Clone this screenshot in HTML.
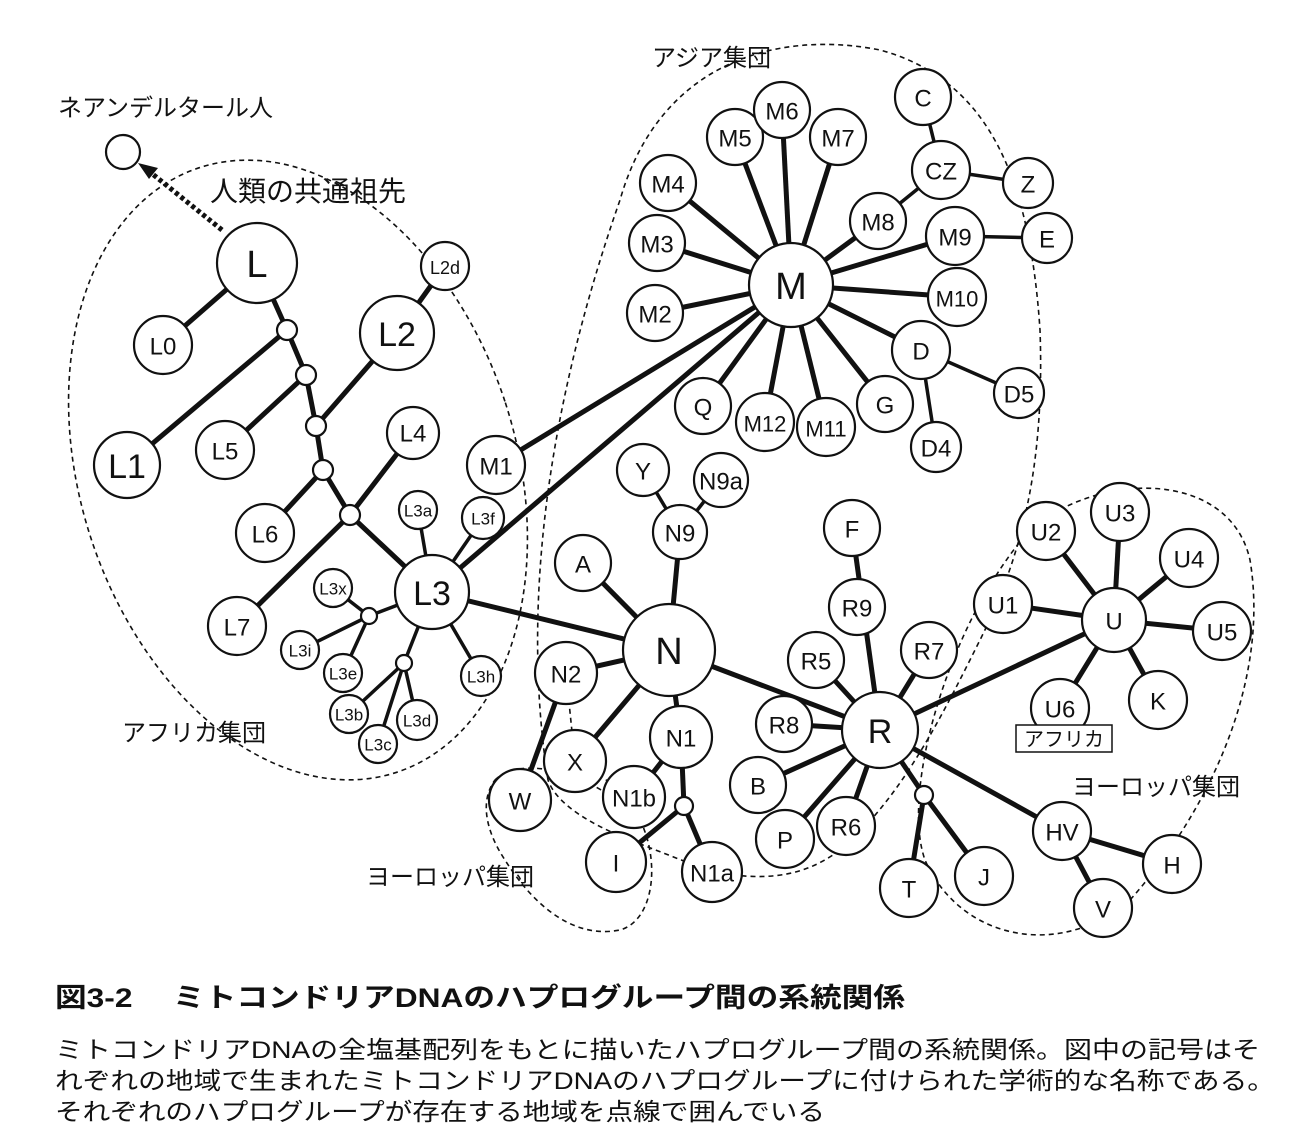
<!DOCTYPE html>
<html><head><meta charset="utf-8"><style>
body{margin:0;background:#fff}
svg{display:block}
text{font-family:"Liberation Sans","Noto Sans CJK JP",sans-serif;fill:#111}
.c{fill:#fff;stroke:#111;stroke-width:2.2}
.l{stroke:#111;stroke-width:5;fill:none}
.t{stroke:#111;stroke-width:3.5;fill:none}
.d{stroke:#111;stroke-width:1.6;fill:none;stroke-dasharray:5 4}
.n{text-anchor:middle;dominant-baseline:central}
</style></head><body>
<svg width="1306" height="1146" viewBox="0 0 1306 1146">
<ellipse class="d" cx="298" cy="470" rx="218" ry="318" transform="rotate(-18 298 470)"/>
<path class="d" d="M548,780 C520,600 550,400 620,200 C660,60 780,30 880,50 C990,80 1030,180 1040,330 C1045,470 1020,560 980,640 C940,720 900,800 840,850 C800,880 760,880 712,872 L630,840 C580,820 555,800 548,780"/>
<path class="d" d="M1030,530 C1100,470 1230,470 1250,560 C1270,680 1210,810 1130,900 C1060,960 960,940 925,860 C900,790 950,620 1030,530 Z"/>
<path class="d" d="M495,780 C520,755 590,770 640,820 C660,860 655,920 620,930 C570,940 530,900 505,860 C485,830 480,800 495,780"/>
<line x1="222" y1="230" x2="150" y2="172" stroke="#111" stroke-width="5" stroke-dasharray="4 3"/>
<polygon points="138,163 158,168 149,179" fill="#111"/>
<g class="l">
<line x1="257" y1="263" x2="163" y2="345"/>
<polyline points="257,263 287,330 306,375 316,426 323,470 350,515 432,592"/>
<line x1="287" y1="330" x2="127" y2="465"/>
<line x1="306" y1="375" x2="225" y2="450"/>
<line x1="316" y1="426" x2="397" y2="333"/>
<line x1="397" y1="333" x2="445" y2="266"/>
<line x1="323" y1="470" x2="265" y2="533"/>
<line x1="350" y1="515" x2="237" y2="626"/>
<line x1="350" y1="515" x2="413" y2="433"/>
<line x1="432" y1="592" x2="791" y2="285"/>
<line x1="432" y1="592" x2="669" y2="650"/>
<line x1="496" y1="465" x2="791" y2="285"/>
</g>
<g class="t">
<line x1="432" y1="592" x2="418" y2="510"/>
<line x1="432" y1="592" x2="483" y2="518"/>
<line x1="432" y1="592" x2="369" y2="616"/>
<line x1="369" y1="616" x2="333" y2="588"/>
<line x1="369" y1="616" x2="300" y2="650"/>
<line x1="369" y1="616" x2="343" y2="673"/>
<line x1="432" y1="592" x2="404" y2="663"/>
<line x1="404" y1="663" x2="349" y2="714"/>
<line x1="404" y1="663" x2="378" y2="744"/>
<line x1="404" y1="663" x2="417" y2="720"/>
<line x1="432" y1="592" x2="481" y2="676"/>
</g>
<g class="l">
<line x1="791" y1="285" x2="735" y2="137"/><line x1="791" y1="285" x2="782" y2="110"/>
<line x1="791" y1="285" x2="838" y2="137"/><line x1="791" y1="285" x2="668" y2="183"/>
<line x1="791" y1="285" x2="657" y2="243"/><line x1="791" y1="285" x2="655" y2="313"/>
<line x1="791" y1="285" x2="878" y2="221"/><line x1="791" y1="285" x2="955" y2="236"/>
<line x1="791" y1="285" x2="957" y2="297"/><line x1="791" y1="285" x2="921" y2="350"/>
<line x1="791" y1="285" x2="885" y2="404"/><line x1="791" y1="285" x2="826" y2="427"/>
<line x1="791" y1="285" x2="765" y2="422"/><line x1="791" y1="285" x2="703" y2="406"/>
</g>
<g class="t">
<line x1="878" y1="221" x2="941" y2="170"/><line x1="941" y1="170" x2="923" y2="97"/>
<line x1="941" y1="170" x2="1028" y2="183"/><line x1="955" y1="236" x2="1047" y2="238"/>
<line x1="921" y1="350" x2="1019" y2="393"/><line x1="921" y1="350" x2="936" y2="447"/>
</g>
<g class="l">
<line x1="669" y1="650" x2="880" y2="730"/>
<line x1="669" y1="650" x2="583" y2="563"/><line x1="669" y1="650" x2="680" y2="532"/>
<line x1="669" y1="650" x2="566" y2="673"/><line x1="669" y1="650" x2="575" y2="761"/>
<line x1="669" y1="650" x2="681" y2="737"/><line x1="566" y1="673" x2="520" y2="800"/>
<line x1="681" y1="737" x2="684" y2="806"/><line x1="684" y1="806" x2="616" y2="862"/>
<line x1="684" y1="806" x2="712" y2="872"/><line x1="681" y1="737" x2="634" y2="797"/>
</g>
<g class="t">
<line x1="680" y1="532" x2="643" y2="470"/><line x1="680" y1="532" x2="721" y2="480"/>
<line x1="566" y1="673" x2="575" y2="761" stroke-dasharray="5 4" stroke-width="1.6"/>
<line x1="575" y1="761" x2="634" y2="797" stroke-dasharray="5 4" stroke-width="1.6"/>
</g>
<g class="l">
<line x1="880" y1="730" x2="852" y2="528"/><line x1="880" y1="730" x2="816" y2="660"/>
<line x1="880" y1="730" x2="929" y2="650"/><line x1="880" y1="730" x2="784" y2="724"/>
<line x1="880" y1="730" x2="758" y2="785"/><line x1="880" y1="730" x2="785" y2="839"/>
<line x1="880" y1="730" x2="846" y2="826"/><line x1="880" y1="730" x2="924" y2="795"/>
<line x1="924" y1="795" x2="909" y2="888"/><line x1="924" y1="795" x2="984" y2="876"/>
<line x1="880" y1="730" x2="1062" y2="831"/><line x1="1062" y1="831" x2="1172" y2="864"/>
<line x1="1062" y1="831" x2="1103" y2="908"/><line x1="880" y1="730" x2="1114" y2="620"/>
<line x1="1114" y1="620" x2="1046" y2="531"/><line x1="1114" y1="620" x2="1120" y2="512"/>
<line x1="1114" y1="620" x2="1189" y2="558"/><line x1="1114" y1="620" x2="1222" y2="631"/>
<line x1="1114" y1="620" x2="1003" y2="604"/><line x1="1114" y1="620" x2="1060" y2="708"/>
<line x1="1114" y1="620" x2="1158" y2="700"/>
</g>
<g class="c">
<circle cx="123" cy="152" r="17"/>
<circle cx="257" cy="263" r="40"/><circle cx="163" cy="345" r="29"/><circle cx="127" cy="465" r="33"/>
<circle cx="397" cy="333" r="37"/><circle cx="445" cy="266" r="24"/><circle cx="225" cy="450" r="29"/>
<circle cx="413" cy="433" r="26"/><circle cx="265" cy="533" r="29"/><circle cx="237" cy="626" r="29"/>
<circle cx="418" cy="510" r="19"/><circle cx="483" cy="518" r="21"/><circle cx="496" cy="465" r="29"/>
<circle cx="432" cy="592" r="37"/><circle cx="333" cy="588" r="19"/><circle cx="300" cy="650" r="19"/>
<circle cx="343" cy="673" r="19"/><circle cx="349" cy="714" r="19"/><circle cx="417" cy="720" r="20"/>
<circle cx="378" cy="744" r="19"/><circle cx="481" cy="676" r="20"/>
<circle cx="287" cy="330" r="10"/><circle cx="306" cy="375" r="10"/><circle cx="316" cy="426" r="10"/>
<circle cx="323" cy="470" r="10"/><circle cx="350" cy="515" r="10"/><circle cx="369" cy="616" r="8"/><circle cx="404" cy="663" r="8"/>
<circle cx="791" cy="285" r="42"/>
<circle cx="735" cy="137" r="28"/><circle cx="782" cy="110" r="28"/><circle cx="838" cy="137" r="28"/>
<circle cx="668" cy="183" r="28"/><circle cx="657" cy="243" r="28"/><circle cx="655" cy="313" r="28"/>
<circle cx="878" cy="221" r="28"/><circle cx="941" cy="170" r="29"/><circle cx="923" cy="97" r="28"/>
<circle cx="1028" cy="183" r="25"/><circle cx="955" cy="236" r="29"/><circle cx="1047" cy="238" r="25"/>
<circle cx="957" cy="297" r="29"/><circle cx="921" cy="350" r="29"/><circle cx="1019" cy="393" r="25"/>
<circle cx="936" cy="447" r="25"/><circle cx="885" cy="404" r="28"/><circle cx="826" cy="427" r="29"/>
<circle cx="765" cy="422" r="29"/><circle cx="703" cy="406" r="28"/>
<circle cx="669" cy="650" r="46"/>
<circle cx="583" cy="563" r="28"/><circle cx="643" cy="470" r="26"/><circle cx="721" cy="480" r="27"/>
<circle cx="680" cy="532" r="27"/><circle cx="566" cy="673" r="31"/><circle cx="575" cy="761" r="31"/>
<circle cx="520" cy="800" r="31"/><circle cx="681" cy="737" r="31"/><circle cx="634" cy="797" r="31"/>
<circle cx="616" cy="862" r="30"/><circle cx="712" cy="872" r="30"/><circle cx="684" cy="806" r="9"/>
<circle cx="880" cy="730" r="38"/>
<circle cx="852" cy="528" r="28"/><circle cx="857" cy="607" r="28"/><circle cx="816" cy="660" r="28"/>
<circle cx="929" cy="650" r="28"/><circle cx="784" cy="724" r="28"/><circle cx="758" cy="785" r="28"/>
<circle cx="785" cy="839" r="29"/><circle cx="846" cy="826" r="29"/><circle cx="909" cy="888" r="29"/>
<circle cx="984" cy="876" r="29"/><circle cx="924" cy="795" r="9"/>
<circle cx="1062" cy="831" r="29"/><circle cx="1172" cy="864" r="29"/><circle cx="1103" cy="908" r="29"/>
<circle cx="1114" cy="620" r="32"/><circle cx="1046" cy="531" r="29"/><circle cx="1120" cy="512" r="29"/>
<circle cx="1189" cy="558" r="29"/><circle cx="1222" cy="631" r="29"/><circle cx="1003" cy="604" r="29"/>
<circle cx="1060" cy="708" r="29"/><circle cx="1158" cy="700" r="29"/>
</g>
<rect x="1016" y="725" width="96" height="27" fill="#fff" stroke="#111" stroke-width="1.5"/>
<g class="n" font-size="24">
<text x="257" y="265" font-size="38">L</text><text x="163" y="347">L0</text><text x="127" y="467" font-size="34">L1</text>
<text x="397" y="335" font-size="34">L2</text><text x="445" y="268" font-size="18">L2d</text><text x="225" y="452">L5</text>
<text x="413" y="434">L4</text><text x="265" y="535">L6</text><text x="237" y="628">L7</text>
<text x="418" y="511" font-size="17">L3a</text><text x="483" y="519" font-size="17">L3f</text><text x="496" y="467">M1</text>
<text x="432" y="594" font-size="34">L3</text><text x="333" y="589" font-size="17">L3x</text><text x="300" y="651" font-size="17">L3i</text>
<text x="343" y="674" font-size="17">L3e</text><text x="349" y="715" font-size="17">L3b</text><text x="417" y="721" font-size="17">L3d</text>
<text x="378" y="745" font-size="17">L3c</text><text x="481" y="677" font-size="17">L3h</text>
<text x="791" y="287" font-size="38">M</text>
<text x="735" y="139">M5</text><text x="782" y="112">M6</text><text x="838" y="139">M7</text>
<text x="668" y="185">M4</text><text x="657" y="245">M3</text><text x="655" y="315">M2</text>
<text x="878" y="223">M8</text><text x="941" y="172">CZ</text><text x="923" y="99">C</text>
<text x="1028" y="185">Z</text><text x="955" y="238">M9</text><text x="1047" y="240">E</text>
<text x="957" y="299" font-size="22">M10</text><text x="921" y="352">D</text><text x="1019" y="395">D5</text>
<text x="936" y="449">D4</text><text x="885" y="406">G</text><text x="826" y="429" font-size="22">M11</text>
<text x="765" y="424" font-size="22">M12</text><text x="703" y="408">Q</text>
<text x="669" y="652" font-size="38">N</text>
<text x="583" y="565">A</text><text x="643" y="472">Y</text><text x="721" y="482">N9a</text>
<text x="680" y="534">N9</text><text x="566" y="675">N2</text><text x="575" y="763">X</text>
<text x="520" y="802">W</text><text x="681" y="739">N1</text><text x="634" y="799">N1b</text>
<text x="616" y="864">I</text><text x="712" y="874">N1a</text>
<text x="880" y="732" font-size="34">R</text>
<text x="852" y="530">F</text><text x="857" y="609">R9</text><text x="816" y="662">R5</text>
<text x="929" y="652">R7</text><text x="784" y="726">R8</text><text x="758" y="787">B</text>
<text x="785" y="841">P</text><text x="846" y="828">R6</text><text x="909" y="890">T</text>
<text x="984" y="878">J</text><text x="1062" y="833">HV</text><text x="1172" y="866">H</text>
<text x="1103" y="910">V</text><text x="1114" y="622">U</text><text x="1046" y="533">U2</text>
<text x="1120" y="514">U3</text><text x="1189" y="560">U4</text><text x="1222" y="633">U5</text>
<text x="1003" y="606">U1</text><text x="1060" y="710">U6</text><text x="1158" y="702">K</text>
<text x="1064" y="740" font-size="20">アフリカ</text>
</g>
<g font-size="24">
<text x="58" y="116">ネアンデルタール人</text>
<text x="210" y="201" font-size="28">人類の共通祖先</text>
<text x="652" y="66">アジア集団</text>
<text x="122" y="741">アフリカ集団</text>
<text x="366" y="885">ヨーロッパ集団</text>
<text x="1072" y="795">ヨーロッパ集団</text>
</g>
<text x="55" y="1007" font-size="27" font-weight="bold" textLength="850" lengthAdjust="spacingAndGlyphs">図3-2　 ミトコンドリアDNAのハプログループ間の系統関係</text>
<g font-size="24">
<text x="55" y="1058" textLength="1205" lengthAdjust="spacingAndGlyphs">ミトコンドリアDNAの全塩基配列をもとに描いたハプログループ間の系統関係。図中の記号はそ</text>
<text x="55" y="1089" textLength="1220" lengthAdjust="spacingAndGlyphs">れぞれの地域で生まれたミトコンドリアDNAのハプログループに付けられた学術的な名称である。</text>
<text x="55" y="1120" textLength="770" lengthAdjust="spacingAndGlyphs">それぞれのハプログループが存在する地域を点線で囲んでいる</text>
</g>
</svg>
</body></html>
